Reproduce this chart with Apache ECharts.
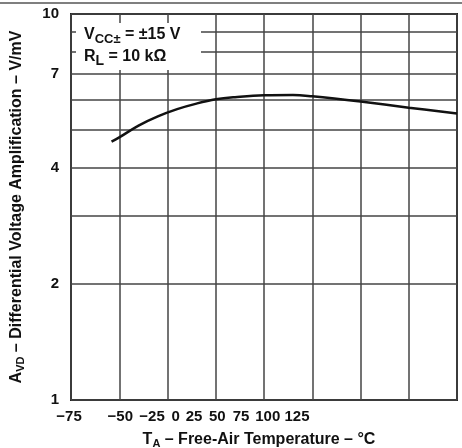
<!DOCTYPE html>
<html>
<head>
<meta charset="utf-8">
<script src="https://cdn.jsdelivr.net/npm/echarts@6/dist/echarts.min.js"></script>
<style>html,body{margin:0;padding:0;background:#fff}#c{width:462px;height:448px}</style>
</head>
<body>
<div id="c"></div>
<script>
// Data
var temps = [-54, -50, -40, -30, -20, -10, 0, 10, 25, 40, 50, 75, 100, 125];
var gain  = [4.67, 4.79, 5.14, 5.43, 5.67, 5.86, 6.01, 6.09, 6.16, 6.17, 6.12, 5.93, 5.72, 5.52];
var xTicks = [-75, -50, -25, 0, 25, 50, 75, 100, 125];
var yGridValues = [1, 2, 3, 4, 5, 6, 7, 8, 9, 10];
var yLabelValues = [1, 2, 4, 7, 10];

// label style offsets (reproduces the reference's compressed label layout)
var labelPad = [[0,4,0,0],[0,0,0,2],[0,31,0,0],[0,80,0,0],[0,140,0,0],[0,190,0,0],[0,239,0,0],[0,282,0,0],[0,320,0,0]];
var FONT = 'Liberation Sans, Arial, sans-serif';
var rich = {};
labelPad.forEach(function (p, i) {
  rich['s' + i] = { padding: p, fontSize: 15, fontWeight: 'bold', fontFamily: FONT, color: '#111' };
});
var subStyle = { fontSize: 11, fontWeight: 'bold', fontFamily: FONT, color: '#111', verticalAlign: 'bottom', padding: [7, 0, 0, 0] };

var chart = echarts.init(document.getElementById('c'), null, { renderer: 'canvas' });
chart.setOption({
  animation: false,
  backgroundColor: '#fff',
  grid: { left: 71, right: 5, top: 14, bottom: 48, show: true, borderColor: '#222', borderWidth: 2, backgroundColor: 'transparent', containLabel: false, outerBoundsMode: 'none' },
  xAxis: {
    type: 'value', min: -75, max: 125, interval: 25,
    axisLine: { show: false }, axisTick: { show: false },
    splitLine: { show: true, lineStyle: { color: '#444', width: 1.5 } },
    axisLabel: {
      margin: 9, showMinLabel: true, showMaxLabel: true,
      formatter: function (v) {
        var i = xTicks.indexOf(v);
        return '{s' + i + '|' + String(v).replace('-', '\u2212') + '}';
      },
      rich: rich
    },
    name: 'T{sub|A} \u2013 Free-Air Temperature \u2013 \u00b0C',
    nameLocation: 'middle', nameGap: 31,
    nameTextStyle: {
      fontSize: 16, fontWeight: 'bold', fontFamily: FONT, color: '#111', padding: [0, 10, 0, 0],
      rich: { sub: subStyle }
    }
  },
  yAxis: {
    type: 'log', logBase: 10, min: 1, max: 10,
    axisLine: { show: false },
    axisTick: { show: false, customValues: yGridValues },
    splitLine: { show: true, lineStyle: { color: '#444', width: 1.5 } },
    axisLabel: {
      customValues: yLabelValues, margin: 12,
      fontSize: 15, fontWeight: 'bold', fontFamily: FONT, color: '#111',
      showMinLabel: true, showMaxLabel: true
    },
    name: 'A{sub|VD} \u2013 Differential Voltage Amplification \u2013 V/mV',
    nameLocation: 'middle', nameGap: 45,
    nameTextStyle: {
      fontSize: 16, fontWeight: 'bold', fontFamily: FONT, color: '#111',
      rich: { sub: subStyle }
    }
  },
  series: [{
    type: 'line', data: temps.map(function (t, i) { return [t, gain[i]]; }),
    smooth: 0.4, symbol: 'none',
    lineStyle: { color: '#111', width: 2.5 }
  }],
  graphic: [
    { type: 'line', shape: { x1: 0, y1: 3, x2: 462, y2: 3 }, style: { stroke: '#555', lineWidth: 1.5 } },
    { type: 'rect', shape: { x: 76, y: 23, width: 125, height: 47 }, style: { fill: '#fff' }, z: 10 },
    {
      type: 'text', left: 84, top: 24, z: 11,
      style: {
        text: 'V{s1|CC\u00b1} = \u00b115 V\nR{s2|L} = 10 k\u03a9',
        font: 'bold 16px ' + FONT, fill: '#111', lineHeight: 22,
        rich: {
          s1: { fontSize: 13, fontWeight: 'bold', fontFamily: FONT, fill: '#111', verticalAlign: 'bottom', lineHeight: 22, padding: [3, 0, 0, 0] },
          s2: { fontSize: 14, fontWeight: 'bold', fontFamily: FONT, fill: '#111', verticalAlign: 'bottom', lineHeight: 22, padding: [8, 0, 0, 0] }
        }
      }
    }
  ]
});
</script>
</body>
</html>
